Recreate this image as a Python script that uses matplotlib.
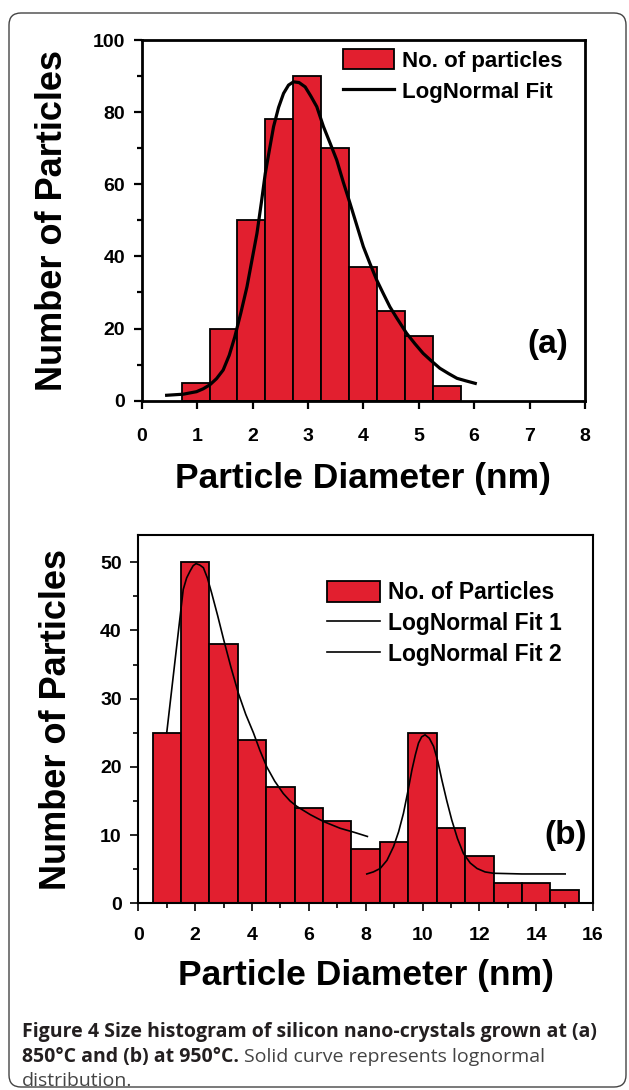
import matplotlib
matplotlib.use("Agg")
import matplotlib.pyplot as plt
import numpy as np
from matplotlib.patches import FancyBboxPatch
from matplotlib.ticker import MultipleLocator

# panel (a): 850 C
a_edges = [0.72, 1.23, 1.72, 2.22, 2.73, 3.24, 3.74, 4.25, 4.75, 5.26, 5.77]
a_counts = [5, 20, 50, 78, 90, 70, 37, 25, 18, 4]
a_fit_x = [0.45, 0.75, 0.99, 1.11, 1.23, 1.35, 1.47, 1.58, 1.68, 1.79, 1.90, 1.99,
           2.08, 2.16, 2.23, 2.31, 2.38, 2.47, 2.56, 2.65, 2.74, 2.84, 2.95, 3.05,
           3.16, 3.28, 3.40, 3.52, 3.64, 3.76, 3.88, 4.00, 4.12, 4.24, 4.36, 4.48,
           4.60, 4.78, 4.93, 5.08, 5.23, 5.38, 5.54, 5.69, 5.85, 6.02]
a_fit_y = [1.5, 1.8, 2.5, 3.3, 4.4, 6.1, 8.5, 12.6, 17.7, 24.4, 31.6, 39.0,
           46.4, 55.0, 63.0, 70.0, 76.0, 81.3, 85.2, 87.5, 88.4, 88.2, 87.0, 84.5,
           81.5, 76.0, 71.4, 66.7, 60.5, 54.7, 48.7, 42.7, 38.0, 33.5, 29.7, 26.0,
           23.0, 18.7, 15.8, 13.1, 11.0, 9.0, 7.5, 6.2, 5.5, 4.8]

# panel (b): 950 C
b_centers = [1, 2, 3, 4, 5, 6, 7, 8, 9, 10, 11, 12, 13, 14, 15]
b_counts = [25, 50, 38, 24, 17, 14, 12, 8, 9, 25, 11, 7, 3, 3, 2]
b_fit1_x = [1.0, 1.58, 1.70, 1.82, 1.93, 2.03, 2.16, 2.29, 2.43, 2.58, 2.79, 3.0,
            3.26, 3.52, 3.78, 4.05, 4.28, 4.52, 4.80, 5.10, 5.34, 5.58, 6.05, 6.51,
            7.10, 7.60, 8.06]
b_fit1_y = [25.0, 46.0, 47.7, 48.7, 49.5, 49.8, 49.6, 49.2, 47.7, 45.5, 42.2, 38.7,
            34.6, 30.8, 27.7, 25.0, 22.4, 20.0, 17.9, 16.1, 15.0, 14.2, 13.0, 12.0,
            11.0, 10.4, 9.8]
b_fit2_x = [8.04, 8.27, 8.51, 8.75, 8.98, 9.16, 9.33, 9.48, 9.63, 9.75, 9.86, 9.97,
            10.09, 10.24, 10.39, 10.54, 10.68, 10.85, 11.03, 11.23, 11.44, 11.68,
            11.92, 12.2, 12.5, 13.5, 15.02]
b_fit2_y = [4.3, 4.6, 5.1, 6.3, 8.3, 10.5, 13.2, 16.3, 19.6, 21.8, 23.5, 24.4,
            24.7, 24.2, 23.0, 20.8, 18.1, 15.1, 12.2, 9.5, 7.3, 5.9,
            5.1, 4.6, 4.4, 4.3, 4.3]

RED = '#e21f2f'
plt.rcParams['font.family'] = ['Liberation Sans', 'DejaVu Sans']
plt.rcParams['font.weight'] = 'bold'

fig = plt.figure(figsize=(6.29, 10.90), dpi=100)

# outer rounded frame
fig.patches.append(FancyBboxPatch((9, 3), 617, 1074, boxstyle='round,pad=0,rounding_size=12',
                                  transform=None, fill=False, ec='#444444', lw=1.0))


def style_axes(ax, spine_w, xpad):
    for s in ax.spines.values():
        s.set_linewidth(spine_w)
    ax.tick_params(which='both', direction='out', width=spine_w * 0.8, labelsize=14,
                   top=False, right=False)
    ax.tick_params(which='major', length=6)
    ax.tick_params(which='minor', length=3.5)
    ax.tick_params(axis='x', which='major', pad=xpad)
    ax.tick_params(axis='y', which='major', pad=6)
    for lab in ax.get_xticklabels() + ax.get_yticklabels():
        lab.set_fontweight('bold')


# ---- (a)
ax1 = fig.add_axes([0.2253, 0.6324, 0.7047, 0.3309])
b1 = ax1.bar(a_edges[:-1], a_counts, width=np.diff(a_edges), align='edge', color=RED,
             edgecolor='black', linewidth=1.3, label='No. of particles')
l1, = ax1.plot(a_fit_x, a_fit_y, color='black', lw=2.3, label='LogNormal Fit')
ax1.set_xlim(0, 8)
ax1.set_ylim(0, 100)
ax1.xaxis.set_major_locator(MultipleLocator(1))
ax1.yaxis.set_major_locator(MultipleLocator(20))
ax1.yaxis.set_minor_locator(MultipleLocator(10))
style_axes(ax1, 2.0, 14)
ax1.set_xlabel('Particle Diameter (nm)', fontsize=25.5, fontweight='bold', labelpad=12)
ax1.set_ylabel('Number of Particles', fontsize=26, fontweight='bold', labelpad=16)
ax1.text(0.915, 0.155, '(a)', transform=ax1.transAxes, ha='center', va='center',
         fontsize=24, fontweight='bold')
ax1.legend(handles=[b1, l1], loc='upper left', bbox_to_anchor=(0.454, 0.974),
           frameon=False, borderpad=0, borderaxespad=0, handlelength=2.3,
           handleheight=1.0, handletextpad=0.35, labelspacing=0.38,
           prop={'weight': 'bold', 'size': 16})

# ---- (b)
ax2 = fig.add_axes([0.2199, 0.1713, 0.7229, 0.3379])
b2 = ax2.bar(b_centers, b_counts, width=1.0, color=RED, edgecolor='black', linewidth=1.3,
             label='No. of Particles')
l2, = ax2.plot(b_fit1_x, b_fit1_y, color='black', lw=1.2, label='LogNormal Fit 1')
l3, = ax2.plot(b_fit2_x, b_fit2_y, color='black', lw=1.2, label='LogNormal Fit 2')
ax2.set_xlim(0, 16)
ax2.set_ylim(0, 54)
ax2.xaxis.set_major_locator(MultipleLocator(2))
ax2.xaxis.set_minor_locator(MultipleLocator(1))
ax2.yaxis.set_major_locator(MultipleLocator(10))
ax2.yaxis.set_minor_locator(MultipleLocator(5))
style_axes(ax2, 1.5, 11)
ax2.set_xlabel('Particle Diameter (nm)', fontsize=25.5, fontweight='bold', labelpad=11)
ax2.set_ylabel('Number of Particles', fontsize=26, fontweight='bold', labelpad=19)
ax2.text(0.94, 0.185, '(b)', transform=ax2.transAxes, ha='center', va='center',
         fontsize=24, fontweight='bold')
ax2.legend(handles=[b2, l2, l3], loc='upper left', bbox_to_anchor=(0.415, 0.874),
           frameon=False, borderpad=0, borderaxespad=0, handlelength=2.3,
           handleheight=1.0, handletextpad=0.35, labelspacing=0.33,
           prop={'weight': 'bold', 'size': 16.5})

# ---- caption
cap_col = '#231f20'
cap_kw = dict(fontsize=14, color=cap_col, family=['Open Sans', 'DejaVu Sans'],
              va='baseline', ha='left', transform=None)
fig.text(22, 1090 - 1037, 'Figure 4 Size histogram of silicon nano-crystals grown at (a)',
         fontweight='bold', **cap_kw)
t2 = fig.text(22, 1090 - 1062, '850°C and (b) at 950°C.', fontweight='bold', **cap_kw)
fig.canvas.draw()
bb = t2.get_window_extent()
cap_kw['color'] = '#444444'
fig.text(bb.x1 + 5, 1090 - 1062, 'Solid curve represents lognormal', fontweight='normal',
         **cap_kw)
fig.text(22, 1090 - 1086, 'distribution.', fontweight='normal', **cap_kw)

fig.savefig('out.png', dpi=100)
